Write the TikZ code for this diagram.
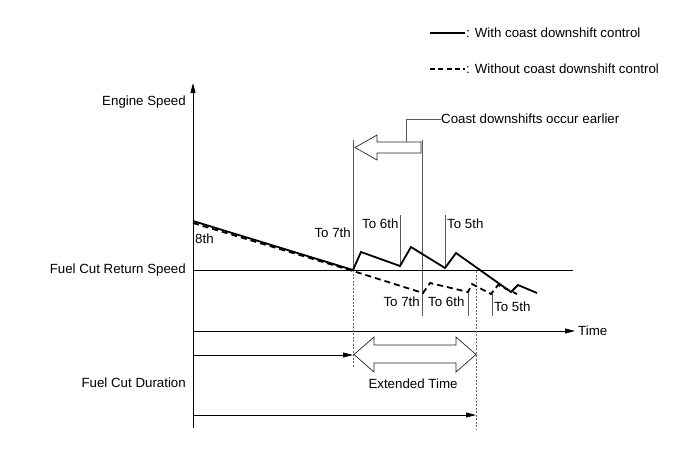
\documentclass[tikz,border=0pt]{standalone}
\usepackage{fontspec}
\setmainfont{Liberation Sans}
\usetikzlibrary{arrows.meta}
\begin{document}
\begin{tikzpicture}[x=1pt,y=-1pt,
  lbl/.style={inner sep=0pt,font=\fontsize{13.3}{15}\selectfont},
  axisline/.style={line width=0.9pt,black},
  thinline/.style={line width=0.7pt,black!65},
  dotline/.style={line width=0.7pt,black!60,dash pattern=on 2pt off 1.5pt},
  curvewith/.style={line width=1.8pt,line join=miter},
  curvewithout/.style={line width=1.8pt,dash pattern=on 6pt off 4pt},
  tip/.style={-{Triangle[length=10pt,width=5pt]}},
  blockarrow/.style={line width=0.7pt,black!85,fill=white}]
\useasboundingbox (0,0) rectangle (690,464);

% legend
\coordinate (l1a) at (430,33); \coordinate (l1b) at (465,33);
\coordinate (l2a) at (430,69); \coordinate (l2b) at (465,69);
\draw[line width=1.5pt] (l1a) -- (l1b);
\draw[line width=1.5pt,dash pattern=on 5pt off 3.3pt] (l2a) -- (l2b);
\node[lbl,anchor=west] (leg1) at (466,33) {: With coast downshift control};
\node[lbl,anchor=west] (leg2) at (466,69) {: Without coast downshift control};

% axes
\coordinate (o) at (193,428);
\coordinate (ytop) at (193,83);
\draw[axisline,tip] (o) -- (ytop);
\coordinate (t0) at (193,331); \coordinate (t1) at (575,331);
\draw[axisline,tip] (t0) -- (t1);
\node[lbl,anchor=west] (time) at (578,331) {Time};
\coordinate (f0) at (193,270); \coordinate (f1) at (573,270);
\draw[line width=0.8pt] (f0) -- (f1);

\node[lbl,anchor=east] (es) at (186,102) {Engine Speed};
\node[lbl,anchor=east] (fcrs) at (186,270) {Fuel Cut Return Speed};
\node[lbl,anchor=east] (fcd) at (186,383) {Fuel Cut Duration};

% vertical marker lines
\coordinate (v1a) at (353,140); \coordinate (v1b) at (353,270); \coordinate (v1c) at (353,368);
\draw[thinline] (v1a) -- (v1b);
\draw[dotline] (v1b) -- (v1c);
\coordinate (v2a) at (422,140); \coordinate (v2b) at (422,316);
\draw[thinline] (v2a) -- (v2b);
\coordinate (u6a) at (400,215); \coordinate (u6b) at (400,266);
\draw[thinline] (u6a) -- (u6b);
\coordinate (u5a) at (445,215); \coordinate (u5b) at (445,268);
\draw[thinline] (u5a) -- (u5b);
\coordinate (d6a) at (468,292); \coordinate (d6b) at (468,316);
\draw[thinline] (d6a) -- (d6b);
\coordinate (d5a) at (492,294); \coordinate (d5b) at (492,316);
\draw[thinline] (d5a) -- (d5b);
\coordinate (v3a) at (476,271); \coordinate (v3b) at (476,430);
\draw[dotline] (v3a) -- (v3b);

% curves
\draw[curvewithout] (193,223) -- (353,271) -- (423,293) -- (430,283) -- (468,292) -- (472,284) -- (491,294) -- (498,285) -- (517,294);
\draw[curvewith] (193,221) -- (353,270) -- (361,252) -- (400,266) -- (411,247) -- (445,268) -- (456,253) -- (511,292) -- (518,285) -- (537,293);

% gear labels
\node[lbl,anchor=west] (g8) at (195,239) {8th};
\node[lbl,anchor=east] (u7) at (351,233) {To 7th};
\node[lbl,anchor=west] (u6) at (362,224) {To 6th};
\node[lbl,anchor=west] (u5) at (447,224) {To 5th};
\node[lbl,anchor=east] (d7) at (420,302) {To 7th};
\node[lbl,anchor=west] (d6) at (428,302) {To 6th};
\node[lbl,anchor=west] (d5) at (494,307) {To 5th};

% earlier arrow
\draw[blockarrow] (355,147.5) -- (377,135) -- (377,142) -- (421,142) -- (421,153) -- (377,153) -- (377,160) -- cycle;
\coordinate (ld0) at (406,142); \coordinate (ld1) at (406,119);
\node[lbl,anchor=west] (earlier) at (441,119) {Coast downshifts occur earlier};
\draw[thinline] (ld0) -- (ld1) -- (earlier.west);

% duration arrows
\coordinate (a0) at (193,355); \coordinate (a1) at (353,355);
\draw[line width=0.8pt,tip] (a0) -- (a1);
\coordinate (b0) at (193,415); \coordinate (b1) at (476,415);
\draw[line width=0.8pt,tip] (b0) -- (b1);
\draw[blockarrow] (354,354.5) -- (374,337) -- (374,345) -- (456,345) -- (456,337) -- (476,354.5) -- (456,372) -- (456,363) -- (374,363) -- (374,372) -- cycle;
\node[lbl] (ext) at (413,384) {Extended Time};
\end{tikzpicture}
\end{document}
